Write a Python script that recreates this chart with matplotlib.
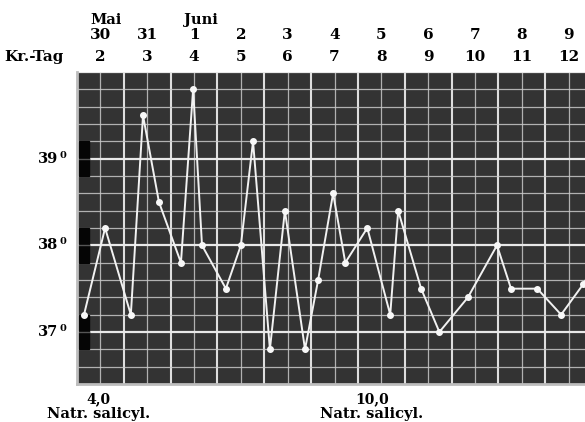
import matplotlib
matplotlib.use("Agg")
import matplotlib.pyplot as plt
from matplotlib.patches import Rectangle
from matplotlib.transforms import blended_transform_factory
import numpy as np

# ---- data ----
# x = illness day (Kr.-Tag) as fractional day, centre of day k at k
times = [1.65, 2.10, 2.65, 2.91, 3.25, 3.72, 3.98, 4.17, 4.68, 5.00,
         5.26, 5.62, 5.94, 6.37, 6.65, 6.97, 7.23, 7.70, 8.19, 8.36,
         8.85, 9.24, 9.85, 10.47, 10.77, 11.33, 11.84, 12.31, 12.70]
temps = [37.2, 38.2, 37.2, 39.5, 38.5, 37.8, 39.8, 38.0, 37.5, 38.0,
         39.2, 36.8, 38.4, 36.8, 37.6, 38.6, 37.8, 38.2, 37.2, 38.4,
         37.5, 37.0, 37.4, 38.0, 37.5, 37.5, 37.2, 37.55, 37.9]
kr_days = [2, 3, 4, 5, 6, 7, 8, 9, 10, 11, 12]
dates = ["30", "31", "1", "2", "3", "4", "5", "6", "7", "8", "9"]
months = [("Mai", 0), ("Juni", 2)]
deg_labels = [39, 38, 37]
doses = [("4,0", 1.95), ("10,0", 7.80)]
dose_drug = "Natr. salicyl."

W, H = 585, 422
fig = plt.figure(figsize=(W / 100, H / 100), dpi=100)
fig.patch.set_facecolor("white")

x0, x1 = 1.5, 12.35
ax_left, ax_top, ax_bot = 77, 72, 384
ax = fig.add_axes([ax_left / W, 1 - ax_bot / H, (W - ax_left) / W, (ax_bot - ax_top) / H])
ax.set_facecolor("#333333")
ax.set_xlim(x0, x1)
ax.set_ylim(36.4, 40.0)

grid_c = "#c8c8c8"
# vertical grid: thin at half days, thicker at day boundaries
for v in np.arange(2.0, 13.0, 1.0):
    ax.axvline(v, color=grid_c, lw=0.9, alpha=0.85, zorder=1)
for v in np.arange(2.5, 13.0, 1.0):
    ax.axvline(v, color="#e8e8e8", lw=1.5, alpha=0.95, zorder=1)
# horizontal grid: thin each 0.2, thicker at whole degrees
for h in np.arange(36.6, 40.0, 0.2):
    if abs(h - round(h)) < 1e-6:
        continue
    ax.axhline(h, color=grid_c, lw=0.9, alpha=0.85, zorder=1)
for h in [37, 38, 39, 40]:
    ax.axhline(h, color="#e8e8e8", lw=1.6, zorder=1)

# black blocks at degree marks on left edge
for d in deg_labels:
    ax.add_patch(Rectangle((x0 + 0.04, d - 0.2), 0.21, 0.4, color="#050505", zorder=1.5))
    ax.plot([x0 + 0.04, x0 + 0.25], [d, d], color="#555555", lw=1.0, zorder=1.6)

ax.plot(times, temps, color="#f2f2f2", lw=1.4, marker="o", ms=4,
        mfc="#f8f8f8", mec="#f8f8f8", zorder=3, clip_on=True)

for s in ["top", "right"]:
    ax.spines[s].set_visible(False)
for s in ["left", "bottom"]:
    ax.spines[s].set_color("#bdbdbd")
    ax.spines[s].set_linewidth(2.0)
ax.set_xticks([])
ax.set_yticks([])

font = dict(family="DejaVu Serif", fontweight="bold", color="black")
tr = blended_transform_factory(ax.transData, fig.transFigure)

def fy(py):
    return 1 - py / H

for k, dt in zip(kr_days, dates):
    ax.text(k, fy(57), str(k), transform=tr, ha="center", va="center", fontsize=11, **font)
    ax.text(k, fy(35), dt, transform=tr, ha="center", va="center", fontsize=11, **font)
for name, idx in months:
    ax.text(kr_days[idx] - 0.22, fy(20), name, transform=tr, ha="left", va="center", fontsize=10.5, **font)
fig.text(4 / W, fy(57), "Kr.-Tag", ha="left", va="center", fontsize=11, **font)

trY = blended_transform_factory(fig.transFigure, ax.transData)
for d in deg_labels:
    ax.text(58 / W, d, str(d), transform=trY, ha="right", va="center", fontsize=10.5, **font)
    ax.text(59 / W, d + 0.04, "0", transform=trY, ha="left", va="center", fontsize=7, **font)

for amt, xp in doses:
    ax.text(xp, fy(399), amt, transform=tr, ha="center", va="center", fontsize=10, **font)
    ax.text(xp, fy(414), dose_drug, transform=tr, ha="center", va="center", fontsize=10.5, **font)

fig.savefig("out.png", dpi=100)
